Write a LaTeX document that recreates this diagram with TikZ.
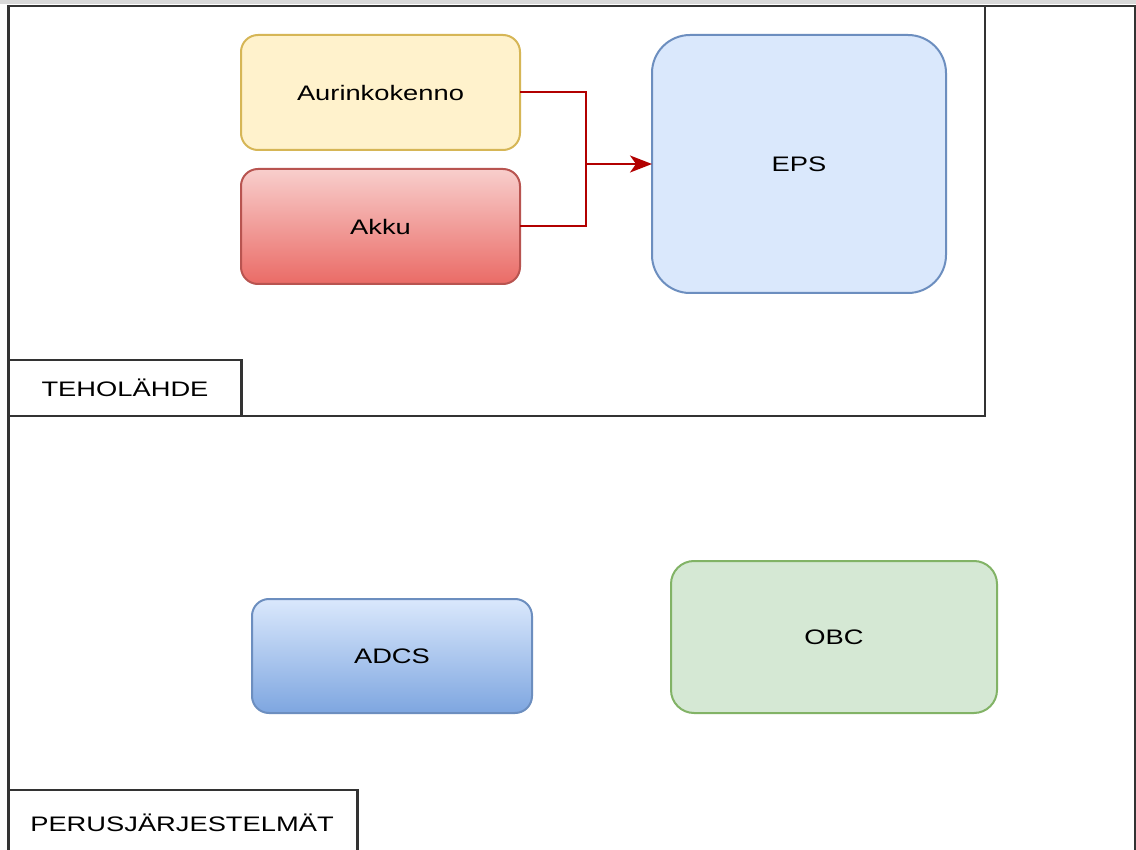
\documentclass[tikz,border=0pt]{standalone}
\usepackage{fontspec}
\usepackage{graphicx}
\setmainfont{Liberation Sans}
\usetikzlibrary{arrows.meta}
\definecolor{frameline}{HTML}{333333}
\definecolor{yfill}{HTML}{FFF2CC}\definecolor{yline}{HTML}{D6B656}
\definecolor{rtop}{HTML}{F8CECC}\definecolor{rbot}{HTML}{EA6B66}\definecolor{rline}{HTML}{B85450}
\definecolor{bfill}{HTML}{DAE8FC}\definecolor{bbot}{HTML}{7EA6E0}\definecolor{bline}{HTML}{6C8EBF}
\definecolor{gfill}{HTML}{D5E8D4}\definecolor{gline}{HTML}{82B366}
\definecolor{conn}{HTML}{B20000}
\newcommand{\wtxt}[1]{\scalebox{1.3}[1]{#1}}
\tikzset{
  blk/.style={draw, line width=2pt, inner sep=0pt, outer sep=0pt, font=\fontsize{21}{25}\selectfont},
  frm/.style={draw=frameline, line width=2.2pt},
  lbl/.style={frm, fill=white, inner sep=0pt, outer sep=0pt, font=\fontsize{21}{25}\selectfont},
  wire/.style={draw=conn, line width=2pt}
}
\begin{document}
\begin{tikzpicture}[x=1pt,y=-1pt]
\useasboundingbox (0,0) rectangle (1136,850);
\fill[white] (0,0) rectangle (1136,850);
\fill[black!15] (0,0) rectangle (1136,4);
% outer container (PERUSJÄRJESTELMÄT)
\draw[frm] (8.5,870) -- (8.5,6) -- (1135,6) -- (1135,870);
% TEHOLÄHDE container
\draw[frm] (8.5,6) rectangle (985,416);
\node[lbl, minimum width=233, minimum height=56, anchor=north west] (tlab) at (8.5,360) {\wtxt{TEHOLÄHDE}};
\node[lbl, minimum width=349, minimum height=80, anchor=north west] (plab) at (8.5,790) {};
\node[font=\fontsize{21}{25}\selectfont] (ptxt) at (182,823) {\wtxt{PERUSJÄRJESTELMÄT}};
% blocks
\node[blk, fill=yfill, draw=yline, rounded corners=17, minimum width=279, minimum height=115] (aur) at (380.5,92.5) {\wtxt{Aurinkokenno}};
\node[blk, top color=rtop, bottom color=rbot, draw=rline, rounded corners=17, minimum width=279, minimum height=115] (akku) at (380.5,226.5) {\wtxt{Akku}};
\node[blk, fill=bfill, draw=bline, rounded corners=38, minimum width=294, minimum height=258] (eps) at (799,164) {\wtxt{EPS}};
\node[blk, top color=bfill, bottom color=bbot, draw=bline, rounded corners=17, minimum width=280, minimum height=114] (adcs) at (392,656) {\wtxt{ADCS}};
\node[blk, fill=gfill, draw=gline, rounded corners=23, minimum width=326, minimum height=152] (obc) at (834,637) {\wtxt{OBC}};
% connectors
\coordinate (j) at (586,164);
\draw[wire] (aur.east) -| (j);
\draw[wire] (akku.east) -| (j);
\draw[wire, -{Stealth[length=22pt, width=17pt, inset=6pt]}] (j) -- (eps.west);
\end{tikzpicture}
\end{document}
